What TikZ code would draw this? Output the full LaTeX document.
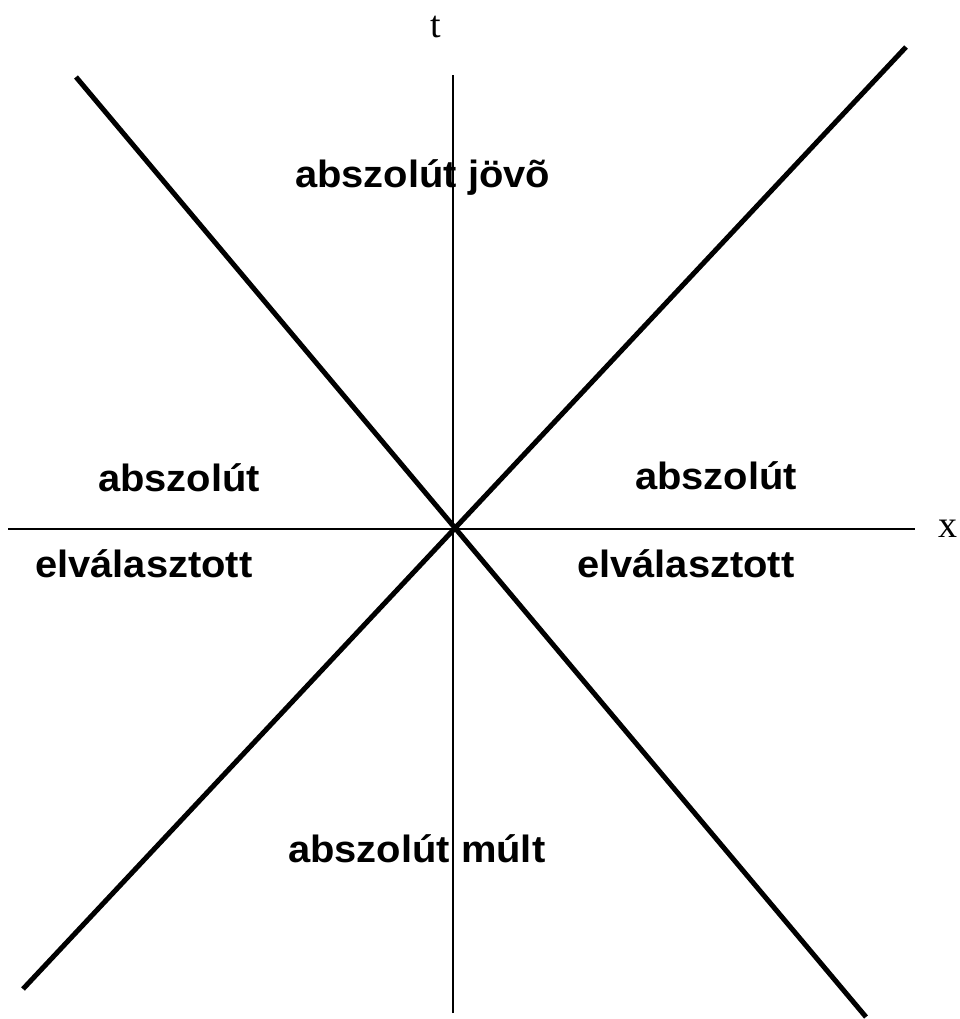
\documentclass[tikz,border=0pt]{standalone}
\usepackage{fontspec}
\setmainfont{Liberation Serif}
\newfontfamily\labfont[FakeStretch=1.05]{Liberation Sans}
\tikzset{
  cone/.style={line width=5pt},
  axis/.style={line width=1.4pt},
  region/.style={font=\labfont\bfseries\fontsize{38}{40}\selectfont, inner sep=0pt, anchor=base west},
  axlabel/.style={font=\fontsize{38}{40}\selectfont, inner sep=0pt, anchor=base}
}
\begin{document}
\begin{tikzpicture}[x=1pt,y=-1pt]
\useasboundingbox (0,0) rectangle (960,1019);
\coordinate (O) at (453,529);
\coordinate (tb) at (453,1013);
\coordinate (tt) at (453,75);
\coordinate (xl) at (8,529);
\coordinate (xr) at (915,529);
\coordinate (a1) at (76,77);
\coordinate (a2) at (866,1017);
\coordinate (b1) at (23,989);
\coordinate (b2) at (906,47);
\draw[axis] (tb) -- (tt);
\draw[axis] (xl) -- (xr);
\draw[cone] (a1) -- (a2);
\draw[cone] (b1) -- (b2);
\node[axlabel] (tl) at (436,38) {t};
\node[axlabel] (xlab) at (948,537) {x};
\node[region] (fut) at (295,188) {abszolút jövõ};
\node[region] (l1) at (98,491) {abszolút};
\node[region] (l2) at (35,577) {elválasztott};
\node[region] (r1) at (635,489) {abszolút};
\node[region] (r2) at (577,577) {elválasztott};
\node[region] (past) at (288,862) {abszolút múlt};
\end{tikzpicture}
\end{document}
